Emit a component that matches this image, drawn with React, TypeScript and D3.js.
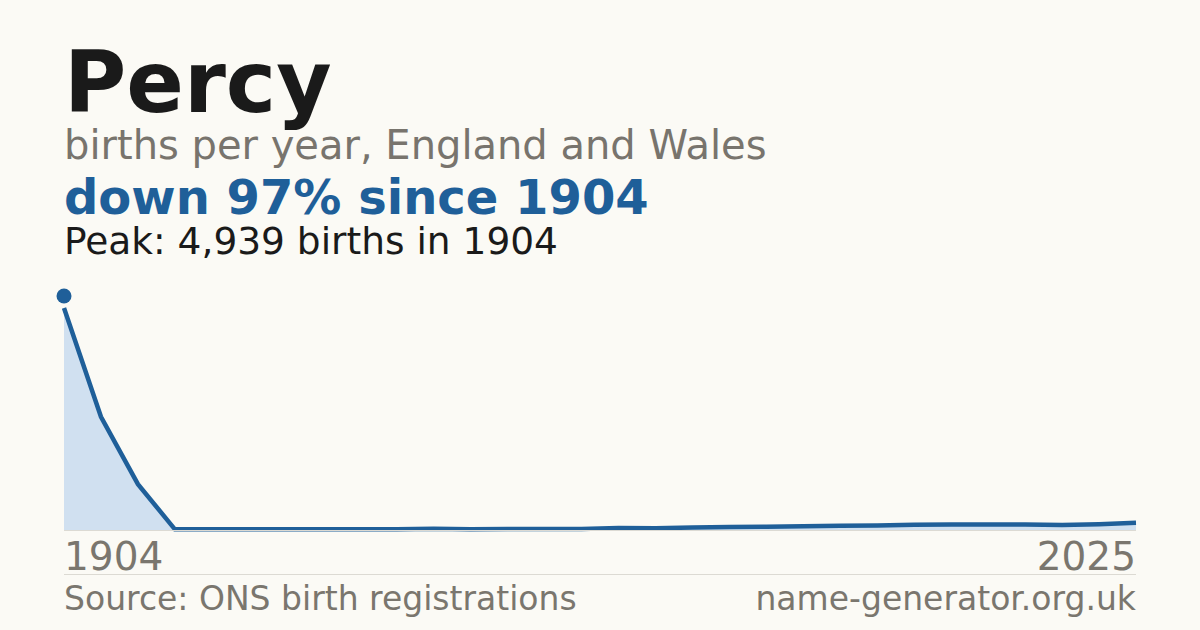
import { useEffect, useRef } from 'react';
import * as d3 from 'd3';

const years = [
  1904, 1914, 1924, 1934, 1944, 1954, 1964, 1974, 1984, 1994,
  2006, 2007, 2008, 2009, 2010, 2011, 2012, 2013, 2014, 2015,
  2016, 2017, 2018, 2019, 2020, 2021, 2022, 2023, 2024, 2025,
];

const births = [
  4939, 2520, 1020, 15, 15, 15, 15, 15, 15, 15,
  30, 15, 25, 25, 25, 45, 40, 55, 65, 75,
  85, 95, 100, 115, 120, 120, 120, 110, 130, 160,
];

const nameLabel = 'Percy';
const subtitle = 'births per year, England and Wales';
const headline = 'down 97% since 1904';
const peakLabel = 'Peak: 4,939 births in 1904';
const sourceLabel = 'Source: ONS birth registrations';
const siteLabel = 'name-generator.org.uk';

const width = 1200;
const height = 630;
const left = 64;
const right = 1136;
const baseY = 530;
const topY = 308;

const App = () => {
  const svgRef = useRef<SVGSVGElement>(null);

  useEffect(() => {
    if (!svgRef.current) return;
    const svg = d3.select(svgRef.current);
    svg.selectAll('*').remove();

    const font = '"DejaVu Sans", sans-serif';

    svg.append('rect')
      .attr('width', width)
      .attr('height', height)
      .attr('fill', '#fbfaf5');

    // Header texts
    svg.append('text')
      .attr('x', left).attr('y', 112)
      .attr('font-family', font).attr('font-size', 85).attr('font-weight', 'bold')
      .attr('fill', '#1a1a1a')
      .text(nameLabel);

    svg.append('text')
      .attr('x', left).attr('y', 159)
      .attr('font-family', font).attr('font-size', 40)
      .attr('fill', '#78746d')
      .text(subtitle);

    svg.append('text')
      .attr('x', left).attr('y', 214)
      .attr('font-family', font).attr('font-size', 48).attr('font-weight', 'bold')
      .attr('fill', '#1f5f99')
      .text(headline);

    svg.append('text')
      .attr('x', left).attr('y', 254)
      .attr('font-family', font).attr('font-size', 37.5)
      .attr('fill', '#1a1a1a')
      .text(peakLabel);

    const x = d3.scalePoint<number>()
      .domain(years)
      .range([left, right]);

    const y = d3.scaleLinear()
      .domain([0, d3.max(births) || 1])
      .range([baseY, topY]);

    const data = years.map((yr, i) => ({ yr, v: births[i] }));

    const area = d3.area<{ yr: number; v: number }>()
      .x(d => x(d.yr) || 0)
      .y0(baseY)
      .y1(d => y(d.v));

    const line = d3.line<{ yr: number; v: number }>()
      .x(d => x(d.yr) || 0)
      .y(d => y(d.v));

    svg.append('path')
      .datum(data)
      .attr('d', area)
      .attr('fill', '#d0e0f0');

    svg.append('path')
      .datum(data)
      .attr('d', line)
      .attr('fill', 'none')
      .attr('stroke', '#1f5f99')
      .attr('stroke-width', 4.5);

    // baseline
    svg.append('line')
      .attr('x1', left).attr('x2', right)
      .attr('y1', baseY + 0.5).attr('y2', baseY + 0.5)
      .attr('stroke', '#dcdad3').attr('stroke-width', 1);

    // peak marker
    const peakIdx = births.indexOf(d3.max(births) || 0);
    svg.append('circle')
      .attr('cx', x(years[peakIdx]) || 0)
      .attr('cy', y(births[peakIdx]) - 12)
      .attr('r', 7.5)
      .attr('fill', '#1f5f99');

    // year labels
    svg.append('text')
      .attr('x', left).attr('y', 570)
      .attr('font-family', font).attr('font-size', 39)
      .attr('fill', '#7a766e')
      .text(String(years[0]));

    svg.append('text')
      .attr('x', right).attr('y', 570)
      .attr('text-anchor', 'end')
      .attr('font-family', font).attr('font-size', 39)
      .attr('fill', '#7a766e')
      .text(String(years[years.length - 1]));

    // separator
    svg.append('line')
      .attr('x1', left).attr('x2', right)
      .attr('y1', 574.5).attr('y2', 574.5)
      .attr('stroke', '#dcdad3').attr('stroke-width', 1);

    // footer
    svg.append('text')
      .attr('x', left).attr('y', 610)
      .attr('font-family', font).attr('font-size', 33)
      .attr('fill', '#7a766e')
      .text(sourceLabel);

    svg.append('text')
      .attr('x', right).attr('y', 610)
      .attr('text-anchor', 'end')
      .attr('font-family', font).attr('font-size', 33)
      .attr('fill', '#7a766e')
      .text(siteLabel);
  }, []);

  return (
    <svg
      ref={svgRef}
      width={width}
      height={height}
      style={{ display: 'block', position: 'absolute', left: 0, top: 0 }}
    />
  );
};

export default App;
